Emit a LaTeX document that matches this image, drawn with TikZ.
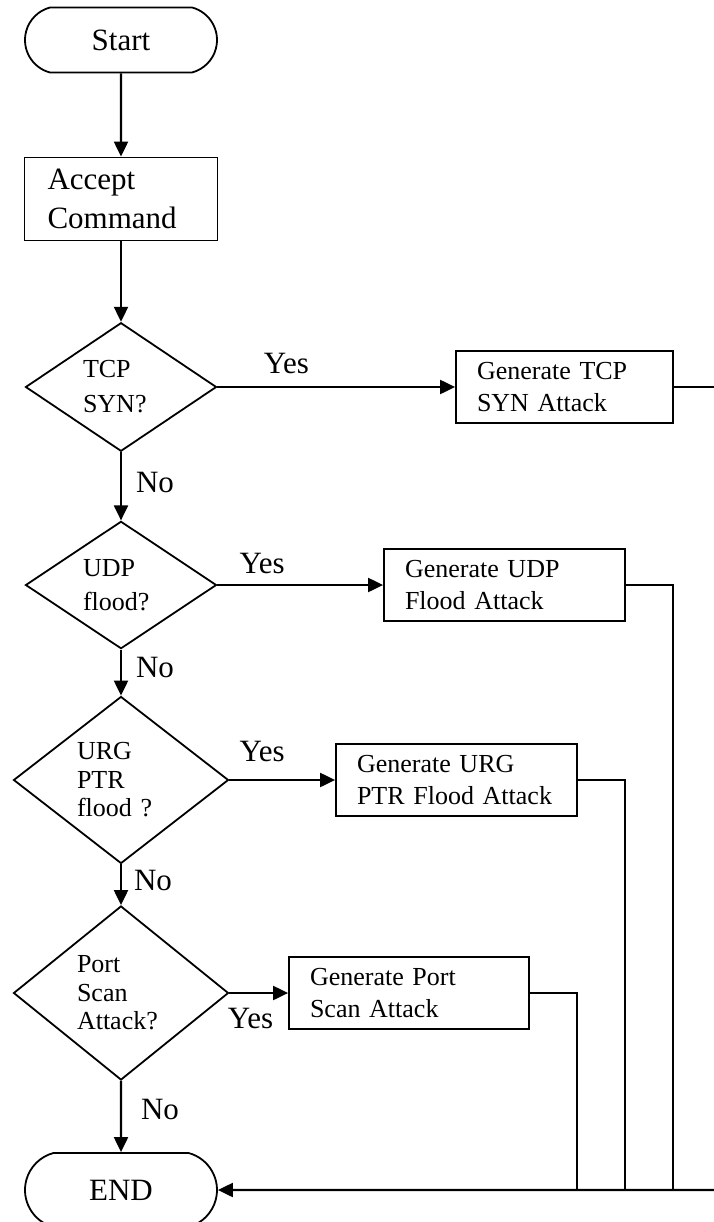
\documentclass[tikz,border=0pt]{standalone}
\usepackage{fontspec}
\setmainfont{Liberation Serif}
\usetikzlibrary{shapes.geometric,shapes.misc,arrows.meta}
\newcommand{\lblfont}{\fontsize{31}{39}\selectfont}
\newcommand{\boxfont}{\fontsize{26}{32}\selectfont}

\begin{document}
\begin{tikzpicture}[
        x=1pt, y=-1pt,
        line width=1.8pt,
        font=\lblfont
    ]
    \tikzset{
        termnode/.style = {rounded rectangle, rounded rectangle arc length=150, draw=black, minimum width=192pt, minimum height=65pt, inner sep=0pt},
        procnode/.style = {rectangle, draw=black, align=left, inner xsep=21pt, inner ysep=0pt, minimum height=72pt, font=\boxfont},
        decnode/.style = {diamond, draw=black, align=left, inner sep=0pt},
        lbl/.style = {inner sep=0pt, font=\lblfont},
        flow/.style = {-{Triangle[length=15pt,width=14pt]}, line width=2.1pt},
        link/.style = {-, line width=2.1pt},
    }
    \useasboundingbox (0,0) rectangle (713,1222);
    \node[termnode] at (121,40) (start) {Start};
    \node[procnode, font=\lblfont, text width=147pt, inner xsep=23pt, minimum height=83pt] at (121,199) (accept) {Accept\\Command};
    %
    \node[decnode, text width=76pt, minimum width=191pt, minimum height=127pt, font={\fontsize{26}{35}\selectfont}] at (121,387) (tcp) {TCP\\SYN?};
    \node[decnode, text width=76pt, minimum width=191pt, minimum height=126pt, font={\fontsize{26}{34}\selectfont}] at (121,585) (udp) {UDP\\flood?};
    \node[decnode, text width=88pt, aspect=1.29, minimum width=215pt, minimum height=167pt, font={\fontsize{26}{28.5}\selectfont}] at (121,780) (urg) {URG\\PTR\\flood ?};
    \node[decnode, text width=88pt, aspect=1.24, minimum width=215pt, minimum height=174pt, font={\fontsize{26}{28.5}\selectfont}] at (121,993) (port) {Port\\Scan\\Attack?};
    %
    \node[procnode, text width=175pt] at (564.5,387) (tcpbox) {Generate TCP\\SYN Attack};
    \node[procnode, text width=199pt] at (504.5,585) (udpbox) {Generate UDP\\Flood Attack};
    \node[procnode, text width=199pt] at (456.5,780) (urgbox) {Generate URG\\PTR Flood Attack};
    \node[procnode, text width=198pt] at (409,993) (portbox) {Generate Port\\Scan Attack};
    %
    \node[termnode, minimum height=74pt] at (121,1190) (end) {END};
    \coordinate (jtcp) at (722,1190);
    \coordinate (judp) at (673,1190);
    \coordinate (jurg) at (625,1190);
    \coordinate (jport) at (577,1190);
    %
    \draw[flow] (start) edge (accept);
    \draw[flow] (accept) edge (tcp);
    \draw[flow] (tcp) edge node[lbl, pos=0.29, above=12pt] {Yes} (tcpbox);
    \draw[flow] (tcp) edge node[lbl, pos=0.45, right=14pt] {No} (udp);
    \draw[flow] (udp) edge node[lbl, pos=0.27, above=10pt] {Yes} (udpbox);
    \draw[flow] (udp) edge node[lbl, pos=0.39, right=14pt] {No} (urg);
    \draw[flow] (urg) edge node[lbl, pos=0.31, above=17pt] {Yes} (urgbox);
    \draw[flow] (urg) edge node[lbl, pos=0.4, right=12pt] {No} (port);
    \draw[flow] (port) edge node[lbl, pos=0.36, below=14pt] {Yes} (portbox);
    \draw[flow] (port) edge node[lbl, pos=0.4, right=19pt] {No} (end);
    %
    \draw[link] (tcpbox) -| (jtcp);
    \draw[flow] (jtcp) -- (end);
    \draw[link] (udpbox) -| (judp);
    \draw[link] (urgbox) -| (jurg);
    \draw[link] (portbox) -| (jport);
\end{tikzpicture}
\end{document}
